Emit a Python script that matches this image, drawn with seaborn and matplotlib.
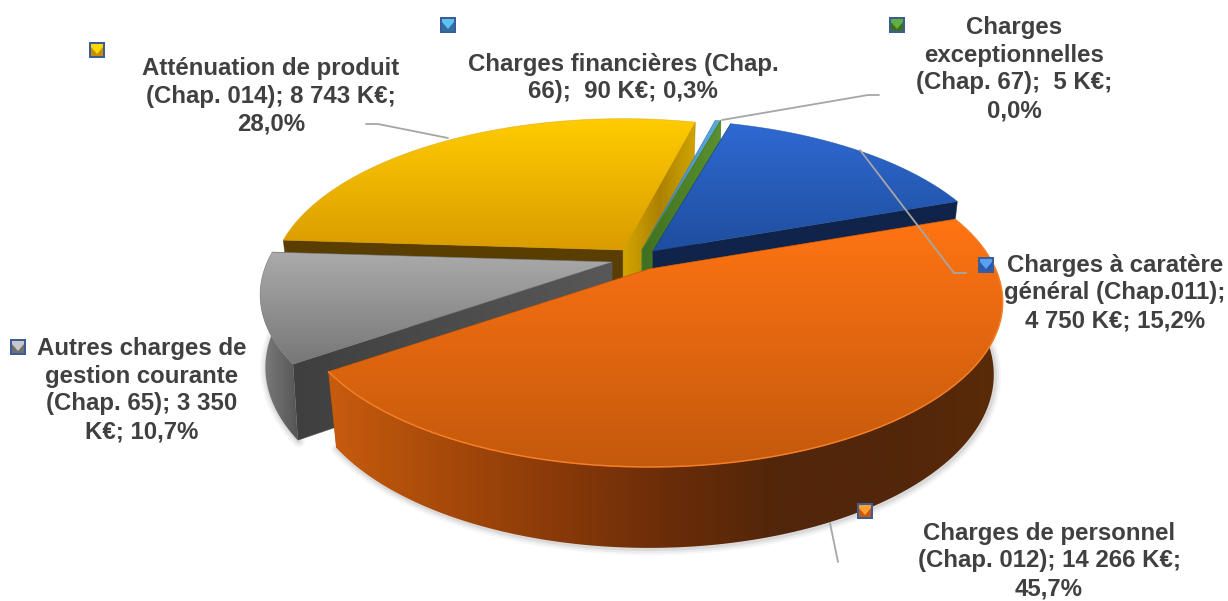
import numpy as np
import matplotlib
matplotlib.use('Agg')
import matplotlib.pyplot as plt
from matplotlib.patches import Polygon, Rectangle
import seaborn as sns

# data
categories = ['general', 'personnel', 'gestion', 'attenuation', 'financieres', 'exceptionnelles']
values_keur = [4750, 14266, 3350, 8743, 90, 5]
labels = [
    ['Charges à caratère', 'général (Chap.011);', '4 750 K€; 15,2%'],
    ['Charges de personnel', '(Chap. 012); 14 266 K€;', '45,7%'],
    ['Autres charges de', 'gestion courante', '(Chap. 65); 3 350', 'K€; 10,7%'],
    ['Atténuation de produit', '(Chap. 014); 8 743 K€;', '28,0%'],
    ['Charges financières (Chap.', '66);  90 K€; 0,3%'],
    ['Charges', 'exceptionnelles', '(Chap. 67);  5 K€;', '0,0%'],
]

# layout, all in picture pixels
label_pos = [(1115, 293), (1049, 561), (142, 390), (271, 96), (623, 78), (1014, 69)]
key_pos = [(986, 265), (865, 511), (18, 347), (97, 50), (448, 25), (897, 25)]
apex = [(653, 251), (649, 269), (612, 262), (623, 250), (642, 250), (642, 250)]
radius = [0.985, 0.99, 0.985, 0.985, 1.0, 1.0]
shrink = [0.975, 0.975, 0.985, 0.975, 0.975, 0.975]
leaders = [
    [(860, 150), (954, 273), (966, 273)],
    [(830, 523), (838, 562)],
    None,
    [(366, 124), (378, 124), (448, 138)],
    [(879, 95), (868, 95), (722, 120)],
    None,
]

# colours: top face gradient, key colour, cut face, outer wall
top_colors = [['#2F69D2', '#1E4E9E'], ['#FF7413', '#C4590C'], ['#ABABAB', '#777777'],
              ['#FFCC00', '#DA9C00'], ['#5BA8DE', '#3F86BC'], ['#5F9A33', '#4A7D24']]
cut_colors = [['#10244A', '#10244A'], ['#A84A0A', '#A84A0A'], ['#3F3F3F', '#585858'],
              ['#5A3E00', '#5A3E00'], ['#2F6E9A', '#2F6E9A'], ['#3F7020', '#5A9030']]
gold_side = ['#D4A500', '#AD8200', '#D0A500']
wall_colors = [['#10244A', '#10244A'],
               ['#C85C0E', '#A84A0A', '#8A3A08', '#6B2D08', '#52260A', '#52260A', '#5A2B08'],
               ['#7E7E7E', '#6A6A6A', '#555555'],
               ['#5A3E00', '#5A3E00'], ['#2F6E9A', '#2F6E9A'], ['#3F7020', '#3F7020']]
key_colors = [['#5AA0F0', '#2A5AB0'], ['#FFA030', '#C85A10'], ['#C8C8C8', '#707070'],
              ['#FFD800', '#C89000'], ['#60C0F0', '#2E70A8'], ['#60B040', '#3A7020']]
draw_order = [3, 4, 5, 0, 2, 1]

# pie shape
start_angle = 74.4
RX, RY, PERSP = 350, 160, 0.2

sns.set_theme(style='white')
plt.rcParams['font.family'] = ['Liberation Sans', 'DejaVu Sans']

fig = plt.figure(figsize=(12.28, 6.01), dpi=100)
ax = fig.add_axes([0, 0, 1, 1])
z = [1]


def project(ang, a, r):
    t = np.radians(ang)
    w = 1 + PERSP * np.sin(t)
    return a[0] + r * RX * np.cos(t) / w, a[1] - r * RY * np.sin(t) / w


def lower(x, y, a, s):
    return a[0] + (x - a[0]) * s, y + 71 + 0.05 * (y - a[1])


def grad_fill(xy, colors, vertical=True, smooth=True):
    xy = np.asarray(xy)
    x0, x1 = xy[:, 0].min(), xy[:, 0].max()
    y0, y1 = xy[:, 1].min(), xy[:, 1].max()
    cm = sns.blend_palette(colors, 64, as_cmap=True)
    g = np.linspace(0, 1, 256)
    g = g.reshape(-1, 1) if vertical else g.reshape(1, -1)
    z[0] += 1
    p = Polygon(xy, closed=True, fc='none', ec='none')
    ax.add_patch(p)
    im = ax.imshow(g, cmap=cm, vmin=0, vmax=1, extent=(x0, x1, y1, y0), aspect='auto',
                   zorder=z[0], interpolation='bilinear')
    im.set_clip_path(p)
    if smooth:
        z[0] += 1
        ax.add_patch(Polygon(xy, closed=True, fc='none', ec=colors[len(colors) // 2],
                             lw=0.5, alpha=0.6, zorder=z[0]))


angles = 360 * np.array(values_keur) / sum(values_keur)
ends = start_angle - np.cumsum(angles)
starts = ends + angles

for i in draw_order:
    a = apex[i]
    arc = np.linspace(starts[i], ends[i], 160)
    x, y = project(arc, a, radius[i])
    x2, y2 = lower(x, y, a, shrink[i])

    # soft shadow under the outer wall
    front = np.sin(np.radians(arc)) < 0.05
    if front.sum() > 1:
        for lw, al in [(9, 0.05), (6, 0.08), (3, 0.12)]:
            z[0] += 1
            ax.plot(x2[front] + 1, y2[front] + 1, color='#606060', lw=lw, alpha=al, zorder=z[0],
                    solid_capstyle='round')

    # cut faces, the one that shows goes last
    for idx in ([-1, 0] if i == 2 else [0, -1]):
        ax0, ay0 = lower(a[0], a[1], a, shrink[i])
        face = [a, (x[idx], y[idx]), (x2[idx], y2[idx]), (ax0, ay0)]
        if i == 3 and idx == -1:
            grad_fill(face, gold_side, vertical=False)
        else:
            grad_fill(face, cut_colors[i], vertical=False)

    # outer wall
    if front.sum() > 1:
        wall = np.vstack([np.c_[x[front], y[front]], np.c_[x2[front], y2[front]][::-1]])
        grad_fill(wall, wall_colors[i], vertical=False, smooth=False)

    # top face
    top = np.vstack([[a], np.c_[x, y]])
    grad_fill(top, top_colors[i])

    if i == 1:
        z[0] += 1
        ax.plot(x, y, color='#F47F28', lw=1.1, zorder=z[0])

z[0] += 1
for pts in leaders:
    if pts is None:
        continue
    p = np.array(pts)
    ax.plot(p[:, 0], p[:, 1], color='#A6A6A6', lw=1.3, zorder=z[0])

# legend keys inside the data labels
for (kx, ky), kc in zip(key_pos, key_colors):
    z[0] += 1
    ax.add_patch(Rectangle((kx - 8, ky - 8), 16, 16, fc='#3B5C95', ec='none', zorder=z[0]))
    z[0] += 1
    ax.add_patch(Rectangle((kx - 6, ky - 6), 12, 12, fc=kc[1], ec='none', zorder=z[0]))
    z[0] += 1
    ax.add_patch(Polygon([(kx - 6, ky - 6), (kx + 6, ky - 6), (kx + 6, ky - 3), (kx, ky + 4), (kx - 6, ky - 3)],
                         closed=True, fc=kc[0], ec='none', zorder=z[0]))

for lab, (tx, ty) in zip(labels, label_pos):
    ax.text(tx, ty, '\n'.join(lab), ha='center', va='center', ma='center', fontsize=17.3,
            fontweight='bold', color='#404040', linespacing=1.27, zorder=z[0] + 5)

ax.set_xlim(0, 1228)
ax.set_ylim(601, 0)
ax.axis('off')
fig.savefig('out.png', dpi=100)
